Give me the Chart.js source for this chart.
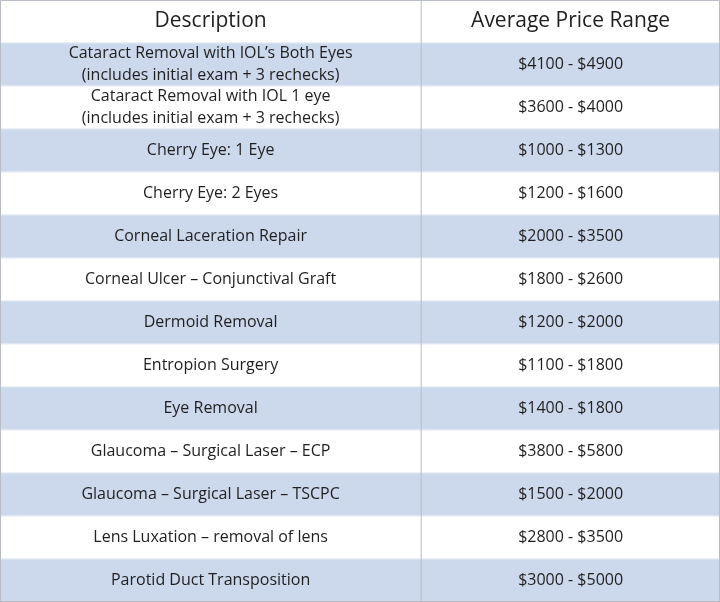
<!DOCTYPE html>
<html>
<head>
<meta charset="utf-8">
<script src="https://cdn.jsdelivr.net/npm/chart.js@4"></script>
<style>
  body { margin: 0; background: #fff; }
  #wrap { width: 720px; height: 602px; }
</style>
</head>
<body>
<div id="wrap"><canvas id="myChart"></canvas></div>
<script>
const headers = ['Description', 'Average Price Range'];
const descriptions = [
  'Cataract Removal with IOL\u2019s Both Eyes\n(includes initial exam + 3 rechecks)',
  'Cataract Removal with IOL 1 eye\n(includes initial exam + 3 rechecks)',
  'Cherry Eye: 1 Eye',
  'Cherry Eye: 2 Eyes',
  'Corneal Laceration Repair',
  'Corneal Ulcer \u2013 Conjunctival Graft',
  'Dermoid Removal',
  'Entropion Surgery',
  'Eye Removal',
  'Glaucoma \u2013 Surgical Laser \u2013 ECP',
  'Glaucoma \u2013 Surgical Laser \u2013 TSCPC',
  'Lens Luxation \u2013 removal of lens',
  'Parotid Duct Transposition'
];
const priceLow = [4100, 3600, 1000, 1200, 2000, 1800, 1200, 1100, 1400, 3800, 1500, 2800, 3000];
const priceHigh = [4900, 4000, 1300, 1600, 3500, 2600, 2000, 1800, 1800, 5800, 2000, 3500, 5000];

const colSplit = 0.585;
const rows = ['header'].concat(descriptions);
const rowColors = rows.map((r, i) => i === 0 ? '#ffffff' : (i % 2 === 1 ? '#ccd8ec' : '#ffffff'));

// draws text, grid lines and the column divider on top of the row bars
const tablePlugin = {
  id: 'tableText',
  afterDatasetsDraw(chart) {
    const ctx = chart.ctx;
    const x = chart.scales.x, y = chart.scales.y;
    const half = (y.getPixelForValue(1) - y.getPixelForValue(0)) / 2;
    const c1 = (x.getPixelForValue(0) + x.getPixelForValue(colSplit)) / 2;
    const c2 = (x.getPixelForValue(colSplit) + x.getPixelForValue(1)) / 2;
    ctx.save();
    ctx.textAlign = 'center';
    ctx.textBaseline = 'middle';
    ctx.fillStyle = '#1f1f1f';
    rows.forEach((r, i) => {
      const cy = y.getPixelForValue(i);
      if (i === 0) {
        ctx.font = '21px "Open Sans"';
        ctx.fillText(headers[0], c1, cy);
        ctx.fillText(headers[1], c2, cy);
      } else {
        ctx.font = '16px "Open Sans"';
        const lines = descriptions[i - 1].split('\n');
        lines.forEach((l, k) => {
          ctx.fillText(l, c1, cy + (k - (lines.length - 1) / 2) * 22);
        });
        ctx.fillText('$' + priceLow[i - 1] + ' - $' + priceHigh[i - 1], c2, cy);
      }
      // row separator
      ctx.strokeStyle = '#e4e9f2';
      ctx.lineWidth = 1;
      ctx.beginPath();
      ctx.moveTo(x.left, cy + half);
      ctx.lineTo(x.right, cy + half);
      ctx.stroke();
    });
    ctx.strokeStyle = '#b8bcc4';
    ctx.beginPath();
    ctx.moveTo(x.getPixelForValue(colSplit), y.top);
    ctx.lineTo(x.getPixelForValue(colSplit), y.bottom);
    ctx.stroke();
    ctx.strokeRect(x.left + 0.5, y.top + 0.5, x.right - x.left - 1, y.bottom - y.top - 1);
    ctx.restore();
  }
};

new Chart('myChart', {
  type: 'bar',
  data: {
    labels: rows,
    datasets: [{
      data: rows.map(() => [0, 1]),
      backgroundColor: rowColors,
      barPercentage: 1,
      categoryPercentage: 1
    }]
  },
  options: {
    indexAxis: 'y',
    responsive: true,
    maintainAspectRatio: false,
    animation: false,
    layout: { padding: 0 },
    plugins: { legend: { display: false }, tooltip: { enabled: false } },
    scales: {
      x: { type: 'linear', min: 0, max: 1, display: false },
      y: { display: false }
    }
  },
  plugins: [tablePlugin]
});
</script>
</body>
</html>
